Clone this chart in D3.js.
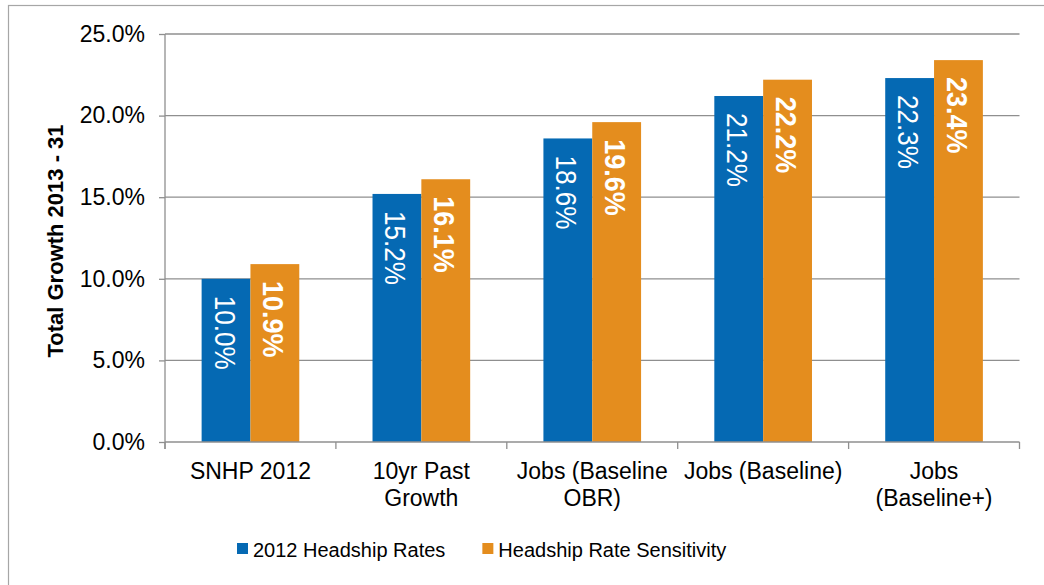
<!DOCTYPE html>
<html><head><meta charset="utf-8">
<script src="https://cdn.jsdelivr.net/npm/d3@7"></script>
<style>html,body{margin:0;padding:0;background:#fff;}svg{display:block;font-family:"Liberation Sans",Arial,sans-serif;}</style>
</head><body>
<svg id="c" width="1044" height="585"></svg>
<script>
const categories = ["SNHP 2012", "10yr Past\nGrowth", "Jobs (Baseline\nOBR)", "Jobs (Baseline)", "Jobs\n(Baseline+)"];
const seriesNames = ["2012 Headship Rates", "Headship Rate Sensitivity"];
const headship2012 = [10.0, 15.2, 18.6, 21.2, 22.3];
const sensitivity = [10.9, 16.1, 19.6, 22.2, 23.4];
const yTicks = [0, 5, 10, 15, 20, 25];
const yTitle = "Total Growth 2013 - 31";
const colors = ["#0569B3", "#E48D1E"];

const svg = d3.select("#c");
const L = 165, R = 1019.5, T = 34, B = 442;

svg.append("rect").attr("x", 8.5).attr("y", 5.5).attr("width", 1200).attr("height", 800)
  .attr("fill", "none").attr("stroke", "#a6a6a6").attr("stroke-width", 1.2);

const y = d3.scaleLinear().domain([0, 25]).range([B, T]);
const x0 = d3.scaleBand().domain(categories).range([L, R]).padding(0);
const x1 = d3.scaleBand().domain(seriesNames).range([0, x0.bandwidth()]).paddingInner(0).paddingOuter(0.75);

// gridlines
svg.append("g").selectAll("line").data(yTicks.filter(d => d > 0)).join("line")
  .attr("x1", L).attr("x2", R).attr("y1", d => y(d)).attr("y2", d => y(d))
  .attr("stroke", "#8f8f8f").attr("stroke-width", 1.3);

// y axis
const yAxis = svg.append("g").attr("transform", `translate(${L},0)`)
  .call(d3.axisLeft(y).tickValues(yTicks).tickSize(6).tickPadding(14).tickFormat(d => d.toFixed(1) + "%"));
yAxis.select(".domain").remove();
yAxis.selectAll(".tick line").attr("stroke", "#8f8f8f").attr("stroke-width", 1.3);
yAxis.selectAll(".tick text").attr("font-size", 23).attr("fill", "#000").attr("font-family", '"Liberation Sans",Arial,sans-serif');
svg.append("line").attr("x1", L).attr("x2", L).attr("y1", T).attr("y2", B + 7)
  .attr("stroke", "#8f8f8f").attr("stroke-width", 1.3);

// bars
const data = categories.map((c, i) => ({c, vals: [headship2012[i], sensitivity[i]]}));
const groups = svg.append("g").selectAll("g").data(data).join("g")
  .attr("transform", d => `translate(${x0(d.c)},0)`);
groups.selectAll("rect").data(d => d.vals.map((v, j) => ({v, s: seriesNames[j], j}))).join("rect")
  .attr("x", d => x1(d.s)).attr("width", x1.bandwidth())
  .attr("y", d => y(d.v)).attr("height", d => B - y(d.v))
  .attr("fill", d => colors[d.j]);
groups.selectAll("text").data(d => d.vals.map((v, j) => ({v, s: seriesNames[j], j}))).join("text")
  .attr("transform", d => `translate(${x1(d.s) + x1.bandwidth() / 2 - 1},${y(d.v) + 17}) rotate(90) scale(0.9,1)`)
  .attr("dy", "0.36em").attr("text-anchor", "start")
  .attr("font-size", d => d.j === 1 ? 30 : 29).attr("fill", "#fff")
  .attr("font-weight", d => d.j === 1 ? "bold" : "normal")
  .text(d => d.v.toFixed(1) + "%");

// x axis
svg.append("line").attr("x1", L).attr("x2", R).attr("y1", B).attr("y2", B)
  .attr("stroke", "#8f8f8f").attr("stroke-width", 1.3);
const xt = [...categories.map(c => x0(c)), R];
svg.append("g").selectAll("line").data(xt).join("line")
  .attr("x1", d => d).attr("x2", d => d).attr("y1", B).attr("y2", B + 7)
  .attr("stroke", "#8f8f8f").attr("stroke-width", 1.3);
const xl = svg.append("g").selectAll("text").data(categories).join("text")
  .attr("x", d => x0(d) + x0.bandwidth() / 2).attr("y", 479)
  .attr("text-anchor", "middle").attr("font-size", 23).attr("fill", "#000");
xl.each(function(d) {
  const t = d3.select(this);
  d.split("\n").forEach((line, i) => {
    t.append("tspan").attr("x", x0(d) + x0.bandwidth() / 2).attr("dy", i === 0 ? 0 : 27).text(line);
  });
});

// y title
svg.append("text").attr("transform", `translate(63,${(T + B) / 2 + 3}) rotate(-90)`)
  .attr("text-anchor", "middle").attr("font-size", 22).attr("font-weight", "bold").attr("fill", "#000")
  .text(yTitle);

// legend
const lg = svg.append("g");
let lx = 237;
seriesNames.forEach((s, i) => {
  lg.append("rect").attr("x", lx).attr("y", 543).attr("width", 11).attr("height", 11).attr("fill", colors[i]);
  const t = lg.append("text").attr("x", lx + 16).attr("y", 557).attr("font-size", 20).attr("fill", "#000").text(s);
  lx = lx + 16 + t.node().getComputedTextLength() + 37;
});
</script>
</body></html>
